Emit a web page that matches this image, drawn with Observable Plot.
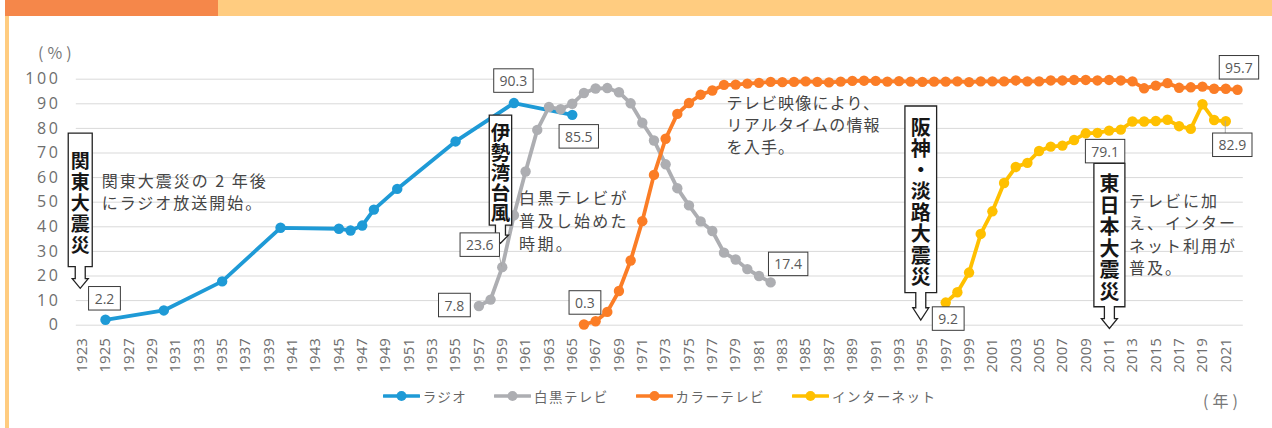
<!DOCTYPE html>
<html>
<head>
<meta charset="utf-8">
<script src="https://cdn.jsdelivr.net/npm/d3@7"></script>
<script src="https://cdn.jsdelivr.net/npm/@observablehq/plot@0.6"></script>
<style>
  html, body { margin: 0; padding: 0; background: #fff; }
  body { width: 1272px; height: 428px; position: relative; overflow: hidden;
         font-family: "Noto Sans CJK JP", "Open Sans", sans-serif; }
  #chart { position: absolute; left: 0; top: 0; }
  .bar1 { position: absolute; left: 5px; top: 0; width: 213px; height: 16px; background: #F5874A; }
  .bar2 { position: absolute; left: 218px; top: 0; right: 0; height: 16px; background: #FFCC80; }
  .stripe { position: absolute; left: 5px; top: 16px; width: 4px; bottom: 0; background: #FFCC80; }
  .unit { position: absolute; color: #777; font-size: 16px; line-height: 20px; white-space: nowrap; letter-spacing: 4px; }
  #legend { position: absolute; left: 76px; width: 1167px; top: 386px; height: 20px;
            display: flex; justify-content: center; align-items: center; gap: 27px; }
  #legend .item { display: flex; align-items: center; gap: 3px; color: #666; font-size: 13.5px; letter-spacing: 1.4px; }
  #legend svg { display: block; }
  .vtext { writing-mode: vertical-rl; text-orientation: upright; }
  g[aria-label="y-axis tick label"] text { letter-spacing: 2.6px; }
</style>
</head>
<body>
<div class="bar1"></div><div class="bar2"></div><div class="stripe"></div>
<div id="chart"></div>
<div class="unit" style="left:38px;top:42px;">(%)</div>
<div class="unit" style="left:1203px;top:390px;">(年)</div>
<div id="legend"></div>
<script>
// ---------- data ----------
const years = d3.range(1923, 2023);
const tickYears = years.filter(y => y % 2 === 1);
const yTicks = [0, 10, 20, 30, 40, 50, 60, 70, 80, 90, 100];

const radioYears  = [1925, 1930, 1935, 1940, 1945, 1946, 1947, 1948, 1950, 1955, 1960, 1965];
const radioValues = [2.2, 6.0, 17.8, 39.6, 39.2, 38.5, 40.5, 47.0, 55.4, 74.7, 90.3, 85.5];

const bwYears  = [1957, 1958, 1959, 1960, 1961, 1962, 1963, 1964, 1965, 1966, 1967, 1968, 1969,
                  1970, 1971, 1972, 1973, 1974, 1975, 1976, 1977, 1978, 1979, 1980, 1981, 1982];
const bwValues = [7.8, 10.4, 23.6, 44.7, 62.5, 79.4, 88.7, 87.8, 90.0, 94.4, 96.2, 96.4, 94.7,
                  90.2, 82.3, 75.1, 65.4, 55.7, 48.7, 42.2, 38.3, 29.5, 26.7, 22.8, 20.0, 17.4];

const colorYears  = [1966, 1967, 1968, 1969, 1970, 1971, 1972, 1973, 1974, 1975,
                     1976, 1977, 1978, 1979, 1980, 1981, 1982, 1983, 1984, 1985,
                     1986, 1987, 1988, 1989, 1990, 1991, 1992, 1993, 1994, 1995,
                     1996, 1997, 1998, 1999, 2000, 2001, 2002, 2003, 2004, 2005,
                     2006, 2007, 2008, 2009, 2010, 2011, 2012, 2013, 2014, 2015,
                     2016, 2017, 2018, 2019, 2020, 2021, 2022];
const colorValues = [0.3, 1.6, 5.4, 13.9, 26.3, 42.3, 61.1, 75.8, 85.9, 90.3,
                     93.7, 95.4, 97.7, 97.8, 98.2, 98.5, 98.9, 98.8, 98.9, 99.1,
                     98.9, 98.7, 99.0, 99.3, 99.4, 99.3, 99.0, 99.2, 99.0, 98.9,
                     99.0, 99.0, 99.1, 98.8, 99.1, 99.1, 99.1, 99.5, 99.1, 99.1,
                     99.5, 99.5, 99.7, 99.7, 99.5, 99.7, 99.5, 99.1, 96.3, 97.4,
                     98.4, 96.5, 96.7, 97.0, 96.1, 96.1, 95.7];

const netYears  = [1997, 1998, 1999, 2000, 2001, 2002, 2003, 2004, 2005, 2006, 2007, 2008, 2009,
                   2010, 2011, 2012, 2013, 2014, 2015, 2016, 2017, 2018, 2019, 2020, 2021];
const netValues = [9.2, 13.4, 21.4, 37.1, 46.3, 57.8, 64.3, 66.0, 70.8, 72.6, 73.0, 75.3, 78.0,
                   78.2, 79.1, 79.5, 82.8, 82.8, 83.0, 83.5, 80.9, 79.8, 89.8, 83.4, 82.9];

const seriesNames = ["ラジオ", "白黒テレビ", "カラーテレビ", "インターネット"];
const seriesColors = ["#1E9AD6", "#ADAEB2", "#FB7D26", "#FFC000"];
const seriesYears = [radioYears, bwYears, colorYears, netYears];
const seriesValues = [radioValues, bwValues, colorValues, netValues];

// years whose values carry a data label, per series
const labelYears = [[1925, 1960, 1965], [1957, 1959, 1982], [1966, 2022], [1997, 2011, 2021]];

const quakeYears = [1923, 1959, 1995, 2011];
const quakeNames = ["関東大震災", "伊勢湾台風", "阪神・淡路大震災", "東日本大震災"];

const noteYears = [1925, 1961, 1978, 2013];
const noteTexts = [
  ["関東大震災の 2 年後", "にラジオ放送開始。"],
  ["白黒テレビが", "普及し始めた", "時期。"],
  ["テレビ映像により、", "リアルタイムの情報", "を入手。"],
  ["テレビに加", "え、インター", "ネット利用が", "普及。"]
];

// ---------- tidy table built from arrays ----------
const rows = [];
seriesNames.forEach((name, i) => {
  seriesYears[i].forEach((yr, j) => rows.push({series: name, year: yr, value: seriesValues[i][j]}));
});
const labelRows = [];
seriesNames.forEach((name, i) => {
  labelYears[i].forEach(yr => {
    const j = seriesYears[i].indexOf(yr);
    labelRows.push({series: name, year: yr, value: seriesValues[i][j]});
  });
});

// ---------- layout (pixel styling, not data) ----------
const labelOffset = {
  "ラジオ1925": [-0.5, -21], "ラジオ1960": [0, -22], "ラジオ1965": [7, 22],
  "白黒テレビ1957": [-24, -0.5], "白黒テレビ1959": [-22, -22], "白黒テレビ1982": [18, -18],
  "カラーテレビ1966": [1.5, -21.5], "カラーテレビ2022": [2, -22],
  "インターネット1997": [3, 16.5], "インターネット2011": [-3.5, 21], "インターネット2021": [7, 24]
};
const leaders = {"白黒テレビ1959": true, "インターネット2021": true};
// callout box: [topValue, bottomValue, tipValue, boxWidth, fontSize, pitch, dx]
const quakeLayout = [
  [77.9, 23.6, 14.8, 24, 19, 21, -1.4],
  [85.2, 40.5, 33.1, 22.4, 19.5, 20, -1.3],
  [88.9, 13.0, 1.9, 31.7, 20, 21.3, -1.1],
  [65.6, 7.3, -1.5, 31, 20, 21.5, 0.8]
];
// note: [dx px, first line value, line height px, letter spacing]
const noteLayout = [
  [-3.3, 58.7, 21.5, 2.0],
  [-6, 52.0, 23, 2.3],
  [3, 90.7, 22.2, 1.2],
  [-3, 50.7, 22.3, 2.0]
];

function annotate(index, scales) {
  const X = typeof scales.x === "function" ? scales.x : scales.scales.x;
  const Y = typeof scales.y === "function" ? scales.y : scales.scales.y;
  const g = d3.create("svg:g");

  // notes
  noteTexts.forEach((lines, i) => {
    const [dx, v0, lh, ls] = noteLayout[i];
    const x0 = X(noteYears[i]) + dx;
    const y0 = Y(v0);
    lines.forEach((t, k) => {
      g.append("text")
        .attr("x", x0).attr("y", y0 + k * lh)
        .attr("text-anchor", "start")
        .attr("dominant-baseline", "central")
        .attr("font-family", '"Noto Sans CJK JP", sans-serif')
        .attr("font-size", 16).attr("letter-spacing", ls)
        .attr("fill", "#454545")
        .text(t);
    });
  });

  // quake callouts
  quakeYears.forEach((yr, i) => {
    const [top, bot, tip, w, fs, pitch, dx] = quakeLayout[i];
    const cx = X(yr) + dx;
    const yt = Y(top), yb = Y(bot), yTip = Y(tip);
    const len = yTip - yb;
    const ys = yb + len * 0.55;
    const sw = 5, hw = 8, h = w / 2;
    const path = `M${cx - h},${yt}H${cx + h}V${yb}H${cx + sw}V${ys}H${cx + hw}L${cx},${yTip}L${cx - hw},${ys}H${cx - sw}V${yb}H${cx - h}Z`;
    g.append("path").attr("d", path).attr("fill", "#fff")
      .attr("stroke", "#222").attr("stroke-width", 1.3).attr("stroke-linejoin", "miter");
    const chars = Array.from(quakeNames[i]);
    const ls = pitch - fs;
    const mid = (yt + yb) / 2 + 2.5 + ls / 2;
    g.append("text")
      .attr("class", "vtext")
      .attr("x", cx).attr("y", mid)
      .attr("text-anchor", "middle")
      .attr("font-family", '"Noto Sans CJK JP", sans-serif')
      .attr("font-weight", 700).attr("font-size", fs).attr("fill", "#161616")
      .attr("letter-spacing", ls)
      .text(chars.join(""));
  });

  // data labels
  labelRows.forEach(d => {
    const key = d.series + d.year;
    const [ox, oy] = labelOffset[key];
    const px = X(d.year), py = Y(d.value);
    const cx = px + ox, cy = py + oy;
    const txt = d.value.toFixed(1);
    const w = txt.length * 7.6 + 9, h = 23.5;
    if (leaders[key]) {
      const ex = Math.max(cx - w / 2, Math.min(px, cx + w / 2));
      const ey = py < cy ? cy - h / 2 : cy + h / 2;
      g.append("line").attr("x1", px).attr("y1", py).attr("x2", ex).attr("y2", ey)
        .attr("stroke", "#A6A6A6").attr("stroke-width", 0.9);
    }
    g.append("rect").attr("x", cx - w / 2).attr("y", cy - h / 2).attr("width", w).attr("height", h)
      .attr("fill", "#fff").attr("stroke", "#3a3a3a").attr("stroke-width", 1);
    g.append("text").attr("x", cx).attr("y", cy)
      .attr("text-anchor", "middle").attr("dominant-baseline", "central")
      .attr("font-family", '"Open Sans", sans-serif').attr("font-size", 14).attr("fill", "#595959")
      .text(txt);
  });
  return g.node();
}

const marks = [
  Plot.gridY(yTicks, {stroke: "#D9D9D9", strokeOpacity: 1, strokeWidth: 1}),
  Plot.axisY({ticks: yTicks, tickSize: 0, tickPadding: 15.9, fontSize: 16, label: null,
              color: "#6e6e6e"}),
  Plot.axisX({ticks: tickYears, tickSize: 0, tickPadding: 13, tickRotate: -90, fontSize: 15,
              label: null, color: "#6e6e6e", tickFormat: d => `${d}`})
];
seriesNames.forEach((name, i) => {
  const data = rows.filter(r => r.series === name);
  marks.push(Plot.line(data, {x: "year", y: "value", stroke: seriesColors[i], strokeWidth: 3.8,
                              strokeLinejoin: "round", strokeLinecap: "round"}));
  marks.push(Plot.dot(data, {x: "year", y: "value", r: 5.2, fill: seriesColors[i], stroke: "none"}));
});
marks.push(annotate);

const chart = Plot.plot({
  width: 1272,
  height: 428,
  marginLeft: 75.8,
  marginRight: 29.2,
  marginTop: 78.7,
  marginBottom: 103.3,
  style: {fontFamily: '"Open Sans", "Noto Sans CJK JP", sans-serif', background: "transparent", overflow: "visible"},
  x: {type: "point", domain: years, padding: 0.5},
  y: {domain: [0, 100]},
  marks
});
document.getElementById("chart").appendChild(chart);

// legend
const legend = d3.select("#legend");
seriesNames.forEach((name, i) => {
  const item = legend.append("div").attr("class", "item");
  const s = item.append("svg").attr("width", 37).attr("height", 12);
  s.append("line").attr("x1", 1).attr("x2", 36).attr("y1", 6).attr("y2", 6)
    .attr("stroke", seriesColors[i]).attr("stroke-width", 3.5).attr("stroke-linecap", "round");
  s.append("circle").attr("cx", 18.5).attr("cy", 6).attr("r", 5).attr("fill", seriesColors[i]);
  item.append("span").text(name);
});
</script>
</body>
</html>
